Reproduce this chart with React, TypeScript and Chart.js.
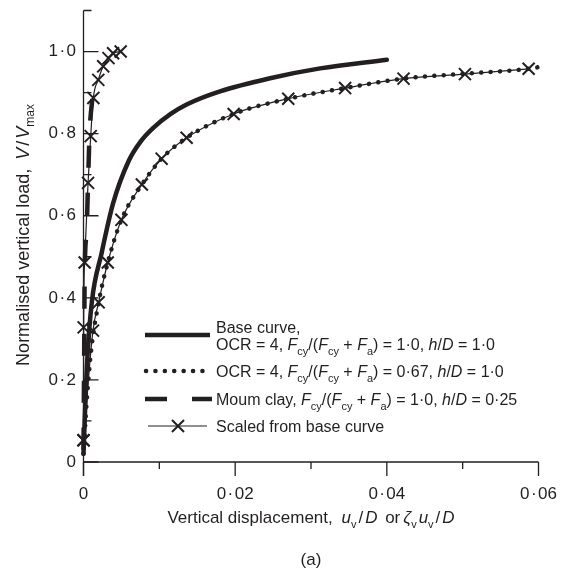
import React, { useEffect, useRef } from 'react';
import { Chart, registerables } from 'chart.js';
Chart.register(...registerables);

const FONT = '"Liberation Sans", Arial, Helvetica, sans-serif';
const INK = '#231f20';

// Base curve, OCR = 4, Fcy/(Fcy+Fa)=1.0, h/D=1.0
const baseCurveX = [0, 0.0002, 0.0005, 0.0011, 0.0024, 0.0039, 0.006, 0.0075, 0.0092, 0.0115, 0.0136, 0.018, 0.0246, 0.0312, 0.04];
const baseCurveY = [0.02, 0.12, 0.25, 0.39, 0.51, 0.63, 0.735, 0.78, 0.814, 0.848, 0.871, 0.903, 0.935, 0.959, 0.98];

// OCR = 4, Fcy/(Fcy+Fa)=0.67 (dotted)
const ocr067X = [0, 0.0004, 0.001, 0.002, 0.0032, 0.005, 0.0077, 0.0103, 0.0136, 0.0198, 0.027, 0.0345, 0.0422, 0.0503, 0.0587, 0.06];
const ocr067Y = [0.02, 0.14, 0.27, 0.389, 0.486, 0.59, 0.676, 0.739, 0.79, 0.848, 0.885, 0.911, 0.934, 0.946, 0.958, 0.962];

// Moum clay (dashed)
const moumX = [0, 0.0001, 0.00015, 0.0004, 0.0006, 0.0008, 0.00125];
const moumY = [0.03, 0.3, 0.45, 0.56, 0.68, 0.8, 0.9];

// Scaled from base curve (crosses), fast curve
const scaledFastX = [0, 0.00002, 0.00015, 0.0006, 0.00095, 0.0013, 0.00195, 0.0026, 0.0033, 0.0039, 0.0049];
const scaledFastY = [0.053, 0.328, 0.486, 0.68, 0.794, 0.887, 0.931, 0.964, 0.984, 0.996, 1.0];

// Scaled from base curve (crosses), slow curve
const scaledSlowX = [0, 0.00125, 0.002, 0.0032, 0.005, 0.0077, 0.0103, 0.0136, 0.0198, 0.027, 0.0345, 0.0422, 0.0503, 0.0587];
const scaledSlowY = [0.053, 0.32, 0.389, 0.486, 0.59, 0.676, 0.739, 0.79, 0.848, 0.885, 0.911, 0.934, 0.945, 0.958];

const xTickLabels = [0, 0.02, 0.04, 0.06];
const yTickLabels = [0, 0.2, 0.4, 0.6, 0.8, 1.0];

const DOT = '\u200a\u00b7\u200a';
const fmt = (v: number, d: number) => (Math.abs(v) < 1e-9 ? '0' : v.toFixed(d).replace('.', DOT));
const isIn = (v: number, arr: number[]) => arr.some((a) => Math.abs(a - v) < 1e-9);

const pts = (xs: number[], ys: number[]) => xs.map((x, i) => ({ x, y: ys[i] }));

type Seg = [string, 'n' | 'i' | 's' | 'g'];

function segFont(kind: string, size: number) {
  if (kind === 'i') return `italic ${size}px ${FONT}`;
  if (kind === 's') return `${Math.round(size * 0.66)}px ${FONT}`;
  return `${size}px ${FONT}`;
}

function segWidth(ctx: CanvasRenderingContext2D, t: string, k: string, size: number) {
  if (k === 'g') return Number(t);
  ctx.font = segFont(k, size);
  return ctx.measureText(t).width;
}

function drawRich(ctx: CanvasRenderingContext2D, segs: Seg[], x: number, y: number, size: number, align: 'left' | 'center') {
  ctx.save();
  ctx.textAlign = 'left';
  ctx.textBaseline = 'alphabetic';
  ctx.fillStyle = INK;
  let total = 0;
  for (const [t, k] of segs) total += segWidth(ctx, t, k, size);
  let cx = align === 'center' ? x - total / 2 : x;
  for (const [t, k] of segs) {
    const w = segWidth(ctx, t, k, size);
    if (k !== 'g') {
      ctx.font = segFont(k, size);
      const dy = k === 's' ? size * 0.3 : 0;
      ctx.fillText(t, cx, y + dy);
    }
    cx += w;
  }
  ctx.restore();
}

const yTitle: Seg[] = [['Normalised vertical load, ', 'n'], ['4', 'g'], ['V', 'i'], ['2', 'g'], ['/', 'n'], ['2', 'g'], ['V', 'i'], ['max', 's']];
const xTitle: Seg[] = [
  ['Vertical displacement, ', 'n'], ['4', 'g'], ['u', 'i'], ['v', 's'], ['2', 'g'], ['/', 'n'], ['2', 'g'], ['D', 'i'], ['3', 'g'], [' or', 'n'], ['3', 'g'],
  ['\u03b6', 'i'], ['v', 's'], ['2', 'g'], ['u', 'i'], ['v', 's'], ['2', 'g'], ['/', 'n'], ['2', 'g'], ['D', 'i'],
];
const fRatio = (val: string, hd: string): Seg[] => [
  ['F', 'i'], ['cy', 's'], ['/(', 'n'], ['F', 'i'], ['cy', 's'], [' + ', 'n'], ['F', 'i'], ['a', 's'],
  [`) = ${val}, `, 'n'], ['h', 'i'], ['/', 'n'], ['D', 'i'], [` = ${hd}`, 'n'],
];
const legendRows: { lines: Seg[][] }[] = [
  { lines: [[['Base curve,', 'n']], [['OCR = 4, ', 'n'], ...fRatio('1\u00b70', '1\u00b70')]] },
  { lines: [[['OCR = 4, ', 'n'], ...fRatio('0\u00b767', '1\u00b70')]] },
  { lines: [[['Moum clay, ', 'n'], ...fRatio('1\u00b70', '0\u00b725')]] },
  { lines: [[['Scaled from base curve', 'n']]] },
];

const decorPlugin = {
  id: 'decor',
  afterDraw(chart: any) {
    const ctx: CanvasRenderingContext2D = chart.ctx;
    const xs = chart.scales.x;
    const ys = chart.scales.y;
    const { left, right, top, bottom } = chart.chartArea;
    ctx.save();
    ctx.strokeStyle = INK;
    ctx.lineWidth = 1.3;
    ctx.beginPath();
    ctx.moveTo(left, top);
    ctx.lineTo(left, bottom + 14);
    ctx.moveTo(left, bottom);
    ctx.lineTo(right, bottom);
    ctx.stroke();
    ctx.beginPath();
    for (const t of xs.ticks) {
      const px = xs.getPixelForValue(t.value);
      const len = isIn(t.value, xTickLabels) ? 14 : 7;
      ctx.moveTo(px, bottom);
      ctx.lineTo(px, bottom + len);
    }
    for (const t of ys.ticks) {
      const py = ys.getPixelForValue(t.value);
      const len = isIn(t.value, yTickLabels) ? 15 : 8;
      ctx.moveTo(left, py);
      ctx.lineTo(left + len, py);
    }
    ctx.stroke();
    ctx.restore();

    drawRich(ctx, xTitle, 311, 523, 17, 'center');
    drawRich(ctx, [['(a)', 'n']], 311, 565, 17, 'center');
    ctx.save();
    ctx.translate(23, 235);
    ctx.rotate(-Math.PI / 2);
    drawRich(ctx, yTitle, 0, 6, 18, 'center');
    ctx.restore();

    const lx0 = 145, lx1 = 210, tx = 216;
    const rowY = [335, 371, 399, 426];
    const ds = chart.data.datasets;
    ctx.save();
    ctx.strokeStyle = INK;
    ctx.lineWidth = ds[0].borderWidth;
    ctx.setLineDash([]);
    ctx.beginPath(); ctx.moveTo(lx0, rowY[0]); ctx.lineTo(lx1, rowY[0]); ctx.stroke();
    ctx.lineWidth = ds[1].borderWidth;
    ctx.lineCap = 'round';
    ctx.setLineDash(ds[1].borderDash);
    ctx.beginPath(); ctx.moveTo(lx0 + 1, rowY[1]); ctx.lineTo(lx1, rowY[1]); ctx.stroke();
    ctx.lineCap = 'butt';
    ctx.lineWidth = ds[2].borderWidth;
    ctx.setLineDash(ds[2].borderDash);
    ctx.beginPath(); ctx.moveTo(lx0, rowY[2]); ctx.lineTo(lx1 + 2, rowY[2]); ctx.stroke();
    ctx.setLineDash([]);
    ctx.lineWidth = ds[3].borderWidth;
    ctx.beginPath(); ctx.moveTo(148, rowY[3]); ctx.lineTo(207, rowY[3]); ctx.stroke();
    ctx.lineWidth = ds[3].pointBorderWidth;
    const r = ds[3].pointRadius;
    const cx = 178;
    const d = r * 0.7071;
    ctx.beginPath();
    ctx.moveTo(cx - d, rowY[3] - d); ctx.lineTo(cx + d, rowY[3] + d);
    ctx.moveTo(cx + d, rowY[3] - d); ctx.lineTo(cx - d, rowY[3] + d);
    ctx.stroke();
    ctx.restore();

    const textCenters = [[327, 344], [371], [399], [426]];
    legendRows.forEach((row, i) => {
      row.lines.forEach((line, j) => {
        drawRich(ctx, line, tx, textCenters[i][j] + 6, 16, 'left');
      });
    });
  },
};

const noPad = (s: any) => { s.paddingLeft = 0; s.paddingRight = 0; s.paddingTop = 0; s.paddingBottom = 0; };

export default function App() {
  const ref = useRef<HTMLCanvasElement>(null);
  useEffect(() => {
    document.body.style.margin = '0';
    const canvas = ref.current!;
    const common = { cubicInterpolationMode: 'monotone' as const, clip: false as const, pointHitRadius: 0 };
    const cross = { pointStyle: 'crossRot', pointRadius: 8.5, pointBorderWidth: 2, pointBorderColor: INK, pointBackgroundColor: INK };
    const chart = new Chart(canvas, {
      type: 'line',
      data: {
        datasets: [
          { ...common, label: 'Base curve', data: pts(baseCurveX, baseCurveY), borderColor: INK, borderWidth: 4.5, pointRadius: 0, borderCapStyle: 'round' },
          { ...common, label: 'OCR 0.67', data: pts(ocr067X, ocr067Y), borderColor: INK, borderWidth: 4.5, borderDash: [0.1, 9.3], borderCapStyle: 'round', pointRadius: 0 },
          { ...common, label: 'Moum clay', data: pts(moumX, moumY), borderColor: INK, borderWidth: 4.5, borderDash: [22, 25], pointRadius: 0 },
          { ...common, ...cross, label: 'Scaled fast', data: pts(scaledFastX, scaledFastY), borderColor: INK, borderWidth: 1.2 },
          { ...common, ...cross, label: 'Scaled slow', data: pts(scaledSlowX, scaledSlowY), borderColor: INK, borderWidth: 1.2 },
        ] as any,
      },
      options: {
        animation: false,
        responsive: false,
        layout: { padding: { top: 8.5, right: 27.5, left: 0, bottom: 0 } },
        plugins: { legend: { display: false }, tooltip: { enabled: false } },
        scales: {
          x: {
            type: 'linear',
            min: 0,
            max: 0.06,
            border: { display: false },
            grid: { display: false, drawTicks: false },
            ticks: {
              stepSize: 0.01,
              autoSkip: false,
              maxRotation: 0,
              padding: 22,
              color: INK,
              font: { family: FONT, size: 17 },
              callback: (v: any) => (isIn(Number(v), xTickLabels) ? fmt(Number(v), 2) : ''),
            },
            afterFit: (s: any) => { s.height = 109; noPad(s); },
          },
          y: {
            type: 'linear',
            min: 0,
            max: 1.1,
            border: { display: false },
            grid: { display: false, drawTicks: false },
            ticks: {
              stepSize: 0.1,
              autoSkip: false,
              padding: 7.5,
              color: INK,
              font: { family: FONT, size: 17 },
              callback: (v: any) => (isIn(Number(v), yTickLabels) ? fmt(Number(v), 1) : ''),
            },
            afterFit: (s: any) => { s.width = 83.5; noPad(s); },
          },
        },
      },
      plugins: [decorPlugin],
    });
    return () => chart.destroy();
  }, []);
  return <canvas ref={ref} width={566} height={571} style={{ display: 'block' }} />;
}
